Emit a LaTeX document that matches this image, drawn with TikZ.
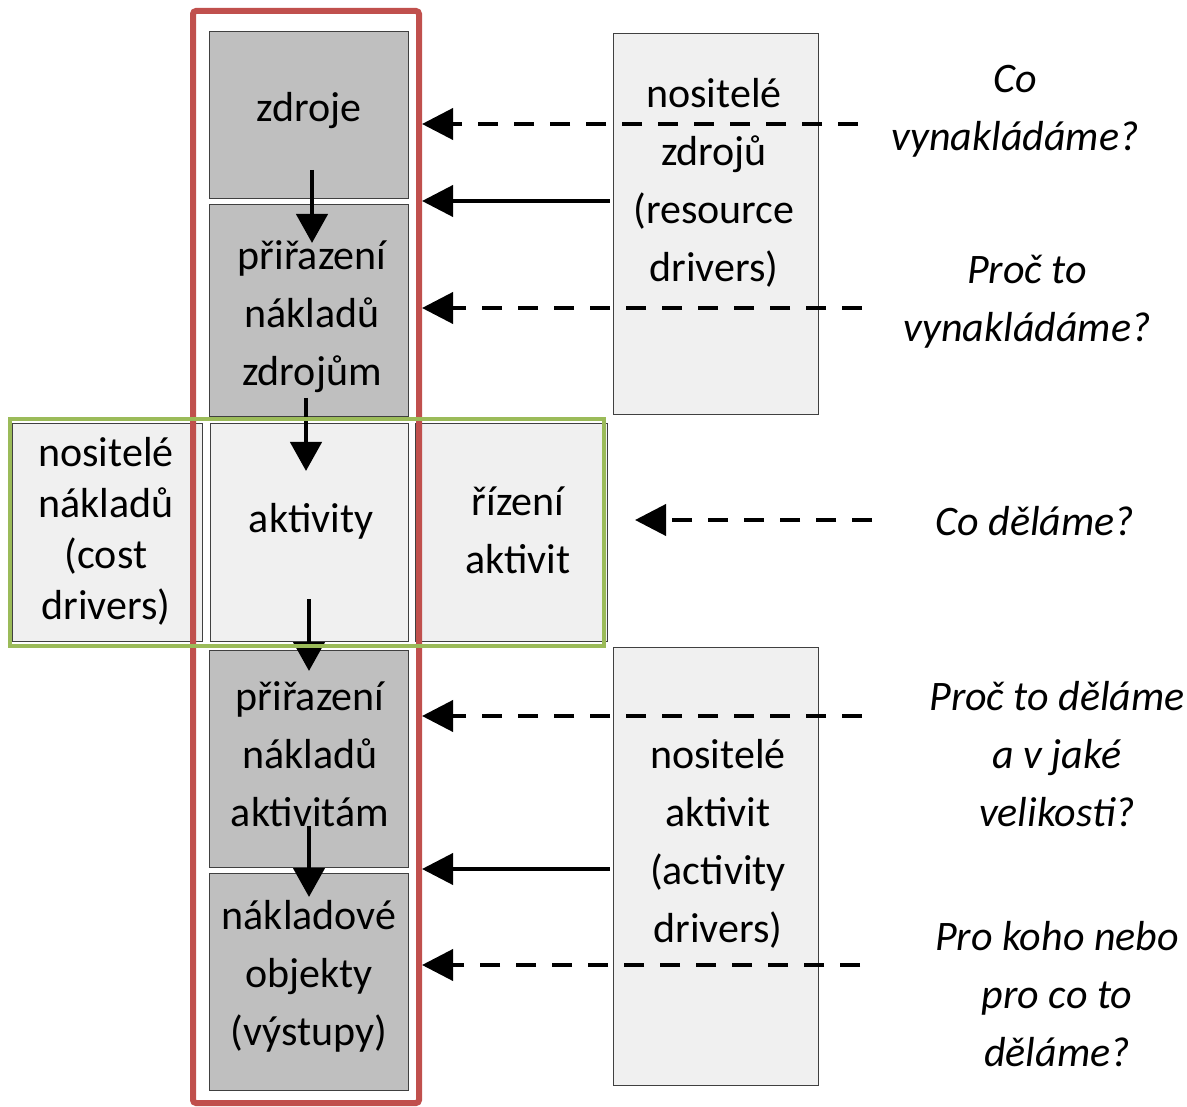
\documentclass[tikz,border=0pt]{standalone}
\usepackage{fontspec}
\setmainfont{Carlito}
\usetikzlibrary{arrows.meta}
\definecolor{boxgray}{RGB}{191,191,191}
\definecolor{boxlight}{RGB}{240,240,240}
\definecolor{abcred}{RGB}{192,80,77}
\definecolor{rowgreen}{RGB}{155,187,89}

\begin{document}
\begin{tikzpicture}[x=1pt,y=-1pt]
\tikzset{
  darkbox/.style={rectangle,draw=black!75,line width=1pt,fill=boxgray,inner sep=0pt,minimum width=199pt},
  lightbox/.style={rectangle,draw=black!75,line width=1pt,fill=boxlight,inner sep=0pt},
  boxtext/.style={align=center,inner sep=0pt,font=\fontsize{42}{58}\selectfont},
  asktext/.style={align=center,inner sep=0pt,font=\fontsize{42}{58}\selectfont\itshape},
  flow/.style={-{Triangle[length=29pt,width=31pt]},line width=4.5pt},
  why/.style={-{Triangle[length=31pt,width=31pt]},line width=4pt,dash pattern=on 20pt off 16pt},
  driver/.style={-{Triangle[length=31pt,width=31pt]},line width=4pt}
}
\useasboundingbox (0,0) rectangle (1187,1107);
\node[darkbox,minimum height=167pt] (n_zdroje) at (308.50,115.50) {};
\node[darkbox,minimum height=212pt] (n_priraz1) at (308.50,311.00) {};
\node[darkbox,minimum height=217pt] (n_priraz2) at (308.50,758.50) {};
\node[darkbox,minimum height=217pt] (n_objekty) at (308.50,981.50) {};
\node[lightbox,minimum width=190pt,minimum height=217pt] (n_costdrv) at (107.00,532.50) {};
\node[lightbox,minimum width=198pt,minimum height=217pt] (n_aktivity) at (309.00,532.50) {};
\node[lightbox,minimum width=192pt,minimum height=217pt] (n_rizeni) at (511.00,532.50) {};
\node[lightbox,minimum width=205pt,minimum height=381pt] (n_nzdroju) at (715.50,224.50) {};
\node[lightbox,minimum width=205pt,minimum height=438pt] (n_naktivit) at (715.50,866.00) {};
\node[boxtext] (t_zdroje) at (309.00,111.00) {zdroje};
\node[boxtext] (t_priraz1) at (312.00,317.00) {přiřazení\\nákladů\\zdrojům};
\node[boxtext,font=\fontsize{42}{51}\selectfont] (t_costdrv) at (106.00,531.00) {nositelé\\nákladů\\(cost\\drivers)};
\node[boxtext] (t_aktivity) at (311.00,521.00) {aktivity};
\node[boxtext] (t_rizeni) at (518.00,530.00) {řízení\\aktivit};
\node[boxtext] (t_priraz2) at (310.00,754.00) {přiřazení\\nákladů\\aktivitám};
\node[boxtext] (t_objekty) at (309.00,976.00) {nákladové\\objekty\\(výstupy)};
\node[boxtext] (t_nzdroju) at (714.00,183.00) {nositelé\\zdrojů\\(resource\\drivers)};
\node[boxtext] (t_naktivit) at (718.00,844.00) {nositelé\\aktivit\\(activity\\drivers)};
\node[asktext] (t_q1) at (1015.00,111.50) {Co\\vynakládáme?};
\node[asktext] (t_q2) at (1027.00,301.50) {Proč to\\vynakládáme?};
\node[asktext] (t_q3) at (1035.00,521.00) {Co děláme?};
\node[asktext] (t_q4) at (1057.00,754.50) {Proč to děláme\\a v jaké\\velikosti?};
\node[asktext] (t_q5) at (1057.00,994.00) {Pro koho nebo\\pro co to\\děláme?};
\node[rectangle,draw=abcred,line width=6pt,rounded corners=3pt,inner sep=0pt,minimum width=226pt,minimum height=1092pt] (n_abc) at (306.00,557.00) {};
\coordinate (c_q1) at (858.00,124.00);
\coordinate (c_q2) at (862.00,308.00);
\coordinate (c_q3) at (872.00,520.00);
\coordinate (c_q3end) at (635.00,520.00);
\coordinate (c_q4) at (862.00,716.00);
\coordinate (c_q5) at (860.00,965.00);
\draw[why] (c_q1) -- (c_q1 -| n_abc.east);
\draw[why] (c_q2) -- (c_q2 -| n_abc.east);
\draw[why] (c_q3) -- (c_q3end);
\draw[why] (c_q4) -- (c_q4 -| n_abc.east);
\draw[why] (c_q5) -- (c_q5 -| n_abc.east);
\draw[driver] ([xshift=-3pt]n_nzdroju.west |- 0,201) -- (n_abc.east |- 0,201);
\draw[driver] ([xshift=-3pt]n_naktivit.west |- 0,869) -- (n_abc.east |- 0,869);
\coordinate (c_v1a) at (312.00,170.00);
\coordinate (c_v1b) at (312.00,243.00);
\coordinate (c_v2a) at (306.00,398.00);
\coordinate (c_v2b) at (306.00,471.00);
\coordinate (c_v3a) at (309.00,599.00);
\coordinate (c_v3b) at (309.00,671.00);
\coordinate (c_v4a) at (309.00,826.00);
\coordinate (c_v4b) at (309.00,897.00);
\draw[flow] (c_v1a) -- (c_v1b);
\draw[flow] (c_v2a) -- (c_v2b);
\draw[flow] (c_v3a) -- (c_v3b);
\draw[flow] (c_v4a) -- (c_v4b);
\node[rectangle,draw=rowgreen,line width=4pt,inner sep=0pt,minimum width=594pt,minimum height=227pt] (n_row) at (307.00,532.50) {};
\end{tikzpicture}
\end{document}
